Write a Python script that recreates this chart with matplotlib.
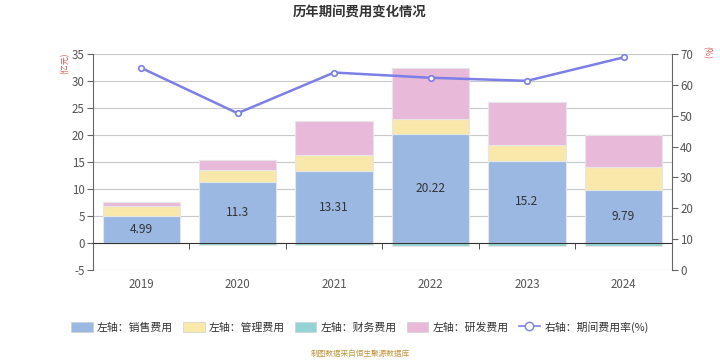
#!/usr/bin/env python3
"""
Stacked bar chart of yearly period expenses (left axis, 亿元) with the
period expense ratio line (right axis, %). Saves out.png.
"""
import matplotlib
matplotlib.use('Agg')
import matplotlib.pyplot as plt
from matplotlib.patches import Patch
from matplotlib.lines import Line2D

plt.rcParams['font.family'] = ['Noto Sans CJK SC', 'DejaVu Sans']
plt.rcParams['axes.unicode_minus'] = False

years = ['2019', '2020', '2021', '2022', '2023', '2024']
sales = [4.99, 11.3, 13.31, 20.22, 15.2, 9.79]
admin = [1.79, 2.27, 3.04, 2.80, 3.00, 4.28]
finance = [-0.05, -0.31, -0.44, -0.62, -0.62, -0.50]
rnd = [0.74, 1.86, 6.30, 9.31, 7.90, 5.98]
ratio = [65.5, 50.8, 64.0, 62.3, 61.3, 68.9]

C_SALES = '#9bb8e2'
C_ADMIN = '#f9e8a9'
C_FIN = '#94d4d4'
C_RND = '#e8b9d9'
C_LINE = '#7b7fe6'
TXT = '#555555'

fig = plt.figure(figsize=(7.2, 3.6), dpi=100)
ax = fig.add_axes([0.129, 0.25, 0.804, 0.60])

x = list(range(len(years)))
width = 0.8
edge = dict(edgecolor='#e6e6e6', linewidth=0.8)

ax.bar(x, sales, width, color=C_SALES, zorder=3, **edge)
bottom2 = list(sales)
ax.bar(x, admin, width, bottom=bottom2, color=C_ADMIN, zorder=3, **edge)
bottom3 = [a + b for a, b in zip(sales, admin)]
ax.bar(x, rnd, width, bottom=bottom3, color=C_RND, zorder=3, **edge)
ax.bar(x, finance, width, color=C_FIN, zorder=3, **edge)

for i, v in enumerate(sales):
    ax.text(i, v / 2, f'{v:g}', ha='center', va='center', fontsize=8.6,
            color='#333333', zorder=5)

ax.set_xlim(-0.5, len(years) - 0.5)
ax.set_ylim(-5, 35)
ax.set_yticks(range(-5, 36, 5))
ax.grid(axis='y', color='#c8c8c8', linewidth=0.8, zorder=0)
ax.set_axisbelow(True)

# x axis line sits on zero, labels pushed below the plot
ax.spines['bottom'].set_position(('data', 0))
ax.spines['bottom'].set_color('#333333')
ax.spines['bottom'].set_zorder(4)
ax.spines['top'].set_visible(False)
ax.spines['right'].set_visible(False)
ax.spines['left'].set_color('#666666')
ax.set_xticks(x)
ax.set_xticklabels(years)
ax.set_xticks([i - 0.5 for i in range(len(years) + 1)], minor=True)
ax.tick_params(axis='x', which='major', length=0, pad=25, labelsize=8.3, labelcolor=TXT)
ax.tick_params(axis='x', which='minor', length=4, color='#333333', direction='out')
ax.tick_params(axis='y', length=4, color='#666666', labelsize=8.3, labelcolor=TXT, pad=2)

ax2 = ax.twinx()
ax2.set_ylim(0, 70)
ax2.set_yticks(range(0, 71, 10))
ax2.plot(x, ratio, color=C_LINE, linewidth=1.8, marker='o', markersize=4,
         markerfacecolor='white', markeredgecolor=C_LINE, markeredgewidth=1.2, zorder=6)
for s in ['top', 'left', 'bottom']:
    ax2.spines[s].set_visible(False)
ax2.spines['right'].set_color('#666666')
ax2.tick_params(axis='y', length=4, color='#666666', labelsize=8.3, labelcolor=TXT, pad=2)

fig.text(0.5, 0.965, '历年期间费用变化情况', ha='center', va='center',
         fontsize=9.6, fontweight='bold', color='#333333')
fig.text(0.090, 0.825, '(亿元)', ha='center', va='center', rotation=90,
         fontsize=5.8, color='#d9534f')
fig.text(0.982, 0.855, '(%)', ha='center', va='center', rotation=270,
         fontsize=5.8, color='#d9534f')

handles = [
    Patch(facecolor=C_SALES, edgecolor='#d0d0d0', linewidth=0.5),
    Patch(facecolor=C_ADMIN, edgecolor='#d0d0d0', linewidth=0.5),
    Patch(facecolor=C_FIN, edgecolor='#d0d0d0', linewidth=0.5),
    Patch(facecolor=C_RND, edgecolor='#d0d0d0', linewidth=0.5),
    Line2D([], [], color=C_LINE, linewidth=1.2, marker='o', markersize=6,
           markerfacecolor='white', markeredgecolor=C_LINE),
]
labels = ['左轴：销售费用', '左轴：管理费用', '左轴：财务费用', '左轴：研发费用', '右轴：期间费用率(%)']
fig.legend(handles, labels, loc='center', bbox_to_anchor=(0.5, 0.092), ncol=5,
           frameon=False, fontsize=7.8, handlelength=2.0, handleheight=1.1,
           columnspacing=0.9, handletextpad=0.4, labelcolor='#333333')

fig.text(0.5, 0.017, '制图数据来自恒生聚源数据库', ha='center', va='center',
         fontsize=5.5, color='#c0963c')

fig.savefig('out.png', dpi=100)
